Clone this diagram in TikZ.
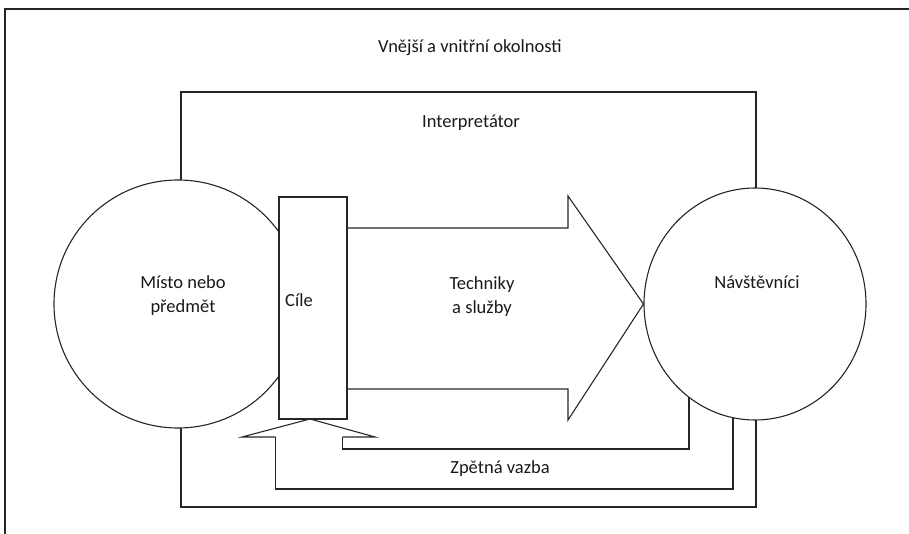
\documentclass[tikz,border=0pt]{standalone}
\usepackage{fontspec}
\setmainfont{Carlito}
\usetikzlibrary{shapes.geometric}
\begin{document}
\begin{tikzpicture}[x=1pt,y=-1pt,
  ln/.style={line width=1.1pt, draw=black!85},
  lbl/.style={inner sep=0pt, font=\fontsize{18.5}{24}\selectfont, text=black!90},
  blob/.style={ellipse, ln, fill=white, inner sep=0pt},
  goalbox/.style={rectangle, ln, fill=white, inner sep=0pt, minimum width=68pt, minimum height=222pt}
]
\useasboundingbox (0,0) rectangle (909,534);
% outer frame (cropped)
\coordinate (fTR) at (909,9);
\coordinate (fTL) at (5,9);
\coordinate (fBL) at (5,534);
\draw[ln] (fTR) -- (fTL) -- (fBL);
% interpreter rectangle
\coordinate (iTL) at (181,92);
\coordinate (iBR) at (756,507);
\draw[ln] (iTL) rectangle (iBR);
% feedback lines (ends hidden under the ellipse)
\coordinate (inS) at (342.7,437);
\coordinate (inE) at (689,300);
\coordinate (outS) at (275.7,437);
\coordinate (outE) at (733,300);
\draw[ln] (inS) |- (689,449) -- (inE);
\draw[ln] (outS) |- (733,489) -- (outE);
% circles
\node[blob, minimum width=248pt, minimum height=248pt] (place) at (178,304) {};
\node[blob, minimum width=222pt, minimum height=232pt] (nav) at (755,304) {};
% goals box
\node[goalbox] (goals) at (313,308) {};
% big arrow
\coordinate (a1) at (goals.east |- 0,228);
\coordinate (a7) at (goals.east |- 0,389);
\draw[ln] (a1) -- (568,228) -- (568,196) -- (nav.west) -- (568,420) -- (568,389) -- (a7);
% upward arrow head
\coordinate (tip) at (310,419);
\draw[ln] (outS) -- (242,437) -- (tip) -- (375,437) -- (inS);
% texts
\node[lbl, anchor=base] (t1) at (470,52.3) {Vnější a vnitřní okolnosti};
\node[lbl, anchor=base] (t2) at (471,128) {Interpretátor};
\node[lbl, anchor=base, align=center] (t3) at (183,312.7) {Místo nebo\\předmět};
\node[lbl, anchor=base west] (t4) at (285,306.7) {Cíle};
\node[lbl, anchor=base, align=center] (t5) at (482,313) {Techniky\\a služby};
\node[lbl, anchor=base] (t6) at (757,288) {Návštěvníci};
\node[lbl, anchor=base] (t7) at (500,473) {Zpětná vazba};
\end{tikzpicture}
\end{document}
